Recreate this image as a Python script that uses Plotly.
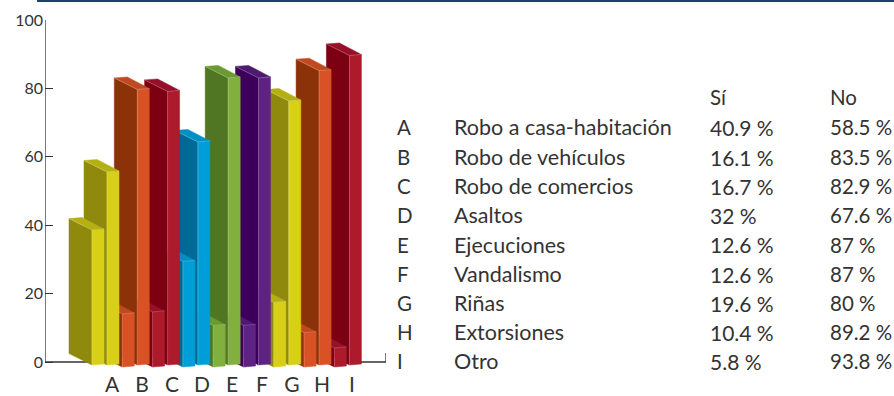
import plotly.graph_objects as go

letters = ["A", "B", "C", "D", "E", "F", "G", "H", "I"]
names = ["Robo a casa-habitación", "Robo de vehículos", "Robo de comercios", "Asaltos",
         "Ejecuciones", "Vandalismo", "Riñas", "Extorsiones", "Otro"]
si = [40.9, 16.1, 16.7, 32, 12.6, 12.6, 19.6, 10.4, 5.8]
no = [58.5, 83.5, 82.9, 67.6, 87, 87, 80, 89.2, 93.8]
si_labels = ["40.9 %", "16.1 %", "16.7 %", "32 %", "12.6 %", "12.6 %", "19.6 %", "10.4 %", "5.8 %"]
no_labels = ["58.5 %", "83.5 %", "82.9 %", "67.6 %", "87 %", "87 %", "80 %", "89.2 %", "93.8 %"]

# (shadow face, lit face, top face)
palette = [("#8f8a0e", "#d8d016", "#b5b012"),
           ("#8c3208", "#d85226", "#bf4a20"),
           ("#7c0012", "#ad1a2c", "#96102a"),
           ("#006a96", "#009ed8", "#0090c6"),
           ("#507624", "#82b03f", "#6a9a30"),
           ("#3c005a", "#5e2382", "#4e1a70")]
bar_colors = [palette[i % 6] for i in range(9)]

PX_X0, PX_X1, PX_Y0, PX_Y1 = 45, 386, 362, 20
PX_BOTTOM = 370         # plot area runs below zero so the bars' front corners are not clipped
UY = (PX_Y0 - PX_Y1) / 100
Y_MIN = -(PX_BOTTOM - PX_Y0) / UY
HEIGHT = 3.3 / UY       # the drawn bars are slightly shorter than the axis scale
BASE = -3 / UY          # front corner sits just below the axis
LOW_BASE = -5 / UY      # the short front bars after the first sit a little lower
STEP, W_DARK, W_LIGHT = 30.3, 23, 12
DROP, RISE = 11.5 / UY, 1 / UY
ROW_SI, ROW_NO = 92, 107
AXIS = "#333"

fig = go.Figure()


def face(xs, ys, color):
    fig.add_trace(go.Scatter(x=xs, y=ys, mode="lines", fill="toself", fillcolor=color,
                             line=dict(color=color, width=0.5), hoverinfo="skip",
                             showlegend=False))


def edge(xs, ys):
    fig.add_trace(go.Scatter(x=xs, y=ys, mode="lines", line=dict(color="rgba(255,255,255,0.3)", width=0.7),
                             hoverinfo="skip", showlegend=False))


def bar(xc, value, colors, base=BASE):
    top = base + value * HEIGHT
    dark, light, lid = colors
    xl, xr = xc - W_DARK, xc + W_LIGHT
    face([xl, xc, xc, xl, xl], [base + DROP, base, top, top + DROP, base + DROP], dark)
    face([xc, xr, xr, xc, xc], [base, base + RISE, top + RISE, top, base], light)
    face([xc, xr, xl + W_LIGHT + 1, xl, xc],
         [top, top + RISE, top + DROP + RISE, top + DROP, top], lid)
    edge([xc, xc], [base, top])
    edge([xl, xc, xr], [top + DROP, top, top + RISE])


for i in reversed(range(9)):
    bar(ROW_NO + STEP * i, no[i], bar_colors[i])
    bar(ROW_SI + STEP * i, si[i], bar_colors[i], BASE if i == 0 else LOW_BASE)

axis_line = dict(color=AXIS, width=1.3)
fig.add_shape(type="line", xref="x", yref="y", x0=PX_X0, x1=PX_X0, y0=0, y1=100, line=axis_line, layer="below")
fig.add_shape(type="line", xref="x", yref="y", x0=PX_X0, x1=PX_X1, y0=0, y1=0, line=axis_line, layer="below")
fig.add_shape(type="line", xref="x", yref="y", x0=PX_X1, x1=PX_X1, y0=0, y1=9 / UY, line=axis_line, layer="below")

PLOT_W, PLOT_H = PX_X1 - PX_X0, PX_BOTTOM - PX_Y1


def paper_x(px):
    return (px - PX_X0) / PLOT_W


def paper_y(py):
    return (PX_BOTTOM - py) / PLOT_H


fig.add_shape(type="rect", xref="paper", yref="paper", x0=paper_x(37), x1=paper_x(894),
              y0=paper_y(2), y1=paper_y(-1), fillcolor="#1f3f73", line_width=0)

FONT = "Lato"
TEXT = "#333333"


def label(px, py, text, size=20.5):
    fig.add_annotation(xref="paper", yref="paper", x=paper_x(px), y=paper_y(py), text=text,
                       showarrow=False, xanchor="left", yanchor="middle", borderpad=0,
                       font=dict(family=FONT, size=size, color=TEXT))


row_y = [127, 157, 186, 215, 245, 274, 303, 332, 361]
label(709, 97, "Sí")
label(829, 97, "No")
for i in range(9):
    label(396, row_y[i], letters[i])
    label(453, row_y[i], names[i], size=21.5)
    label(709, row_y[i], si_labels[i], size=21)
    label(829, row_y[i], no_labels[i])

fig.update_layout(
    width=894, height=396, autosize=False, showlegend=False,
    margin=dict(l=PX_X0, r=894 - PX_X1, t=PX_Y1, b=396 - PX_BOTTOM, pad=0),
    paper_bgcolor="white", plot_bgcolor="white",
    xaxis=dict(range=[PX_X0, PX_X1], tickvals=[112 + 30 * i for i in range(9)], ticktext=letters,
               ticks="", showgrid=False, zeroline=False, showline=False,
               automargin=False, layer="below traces", tickfont=dict(family=FONT, size=21, color=TEXT)),
    yaxis=dict(range=[Y_MIN, 100], tickvals=[0, 20, 40, 60, 80, 100], ticks="inside", ticklen=8, tickwidth=1.3,
               tickcolor=AXIS, showgrid=False, zeroline=False, showline=False, ticklabelstandoff=1,
               automargin=False, layer="below traces", tickfont=dict(family=FONT, size=16, color=TEXT)),
)

fig.write_html("out.html", config={"displayModeBar": False},
               post_script="document.body.style.margin='0';document.body.style.overflow='hidden';")
